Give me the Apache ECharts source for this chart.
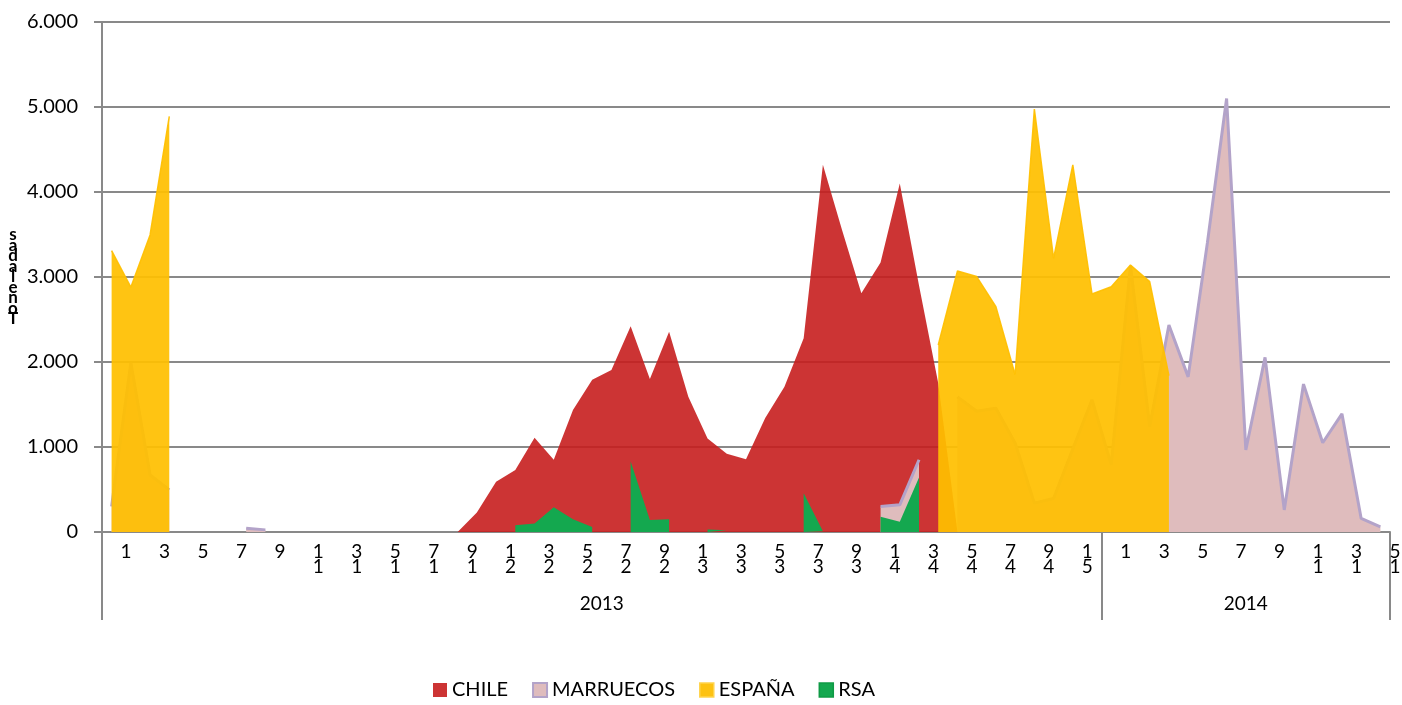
<!DOCTYPE html>
<html>
<head>
<meta charset="utf-8">
<title>Toneladas por semana</title>
<script src="https://cdn.jsdelivr.net/npm/echarts@6/dist/echarts.min.js"></script>
<style>
  html, body { margin: 0; padding: 0; background: #fff; }
  #chart { width: 1402px; height: 705px; }
</style>
</head>
<body>
<div id="chart"></div>
<script>
const _ = null;

// semanas: 2013 (1-52) + 2014 (1-15)
const weeks = [
  '1', '2', '3', '4', '5', '6', '7', '8', '9', '10', '11', '12', '13',
  '14', '15', '16', '17', '18', '19', '20', '21', '22', '23', '24', '25', '26',
  '27', '28', '29', '30', '31', '32', '33', '34', '35', '36', '37', '38', '39',
  '40', '41', '42', '43', '44', '45', '46', '47', '48', '49', '50', '51', '52',
  '1', '2', '3', '4', '5', '6', '7', '8', '9', '10', '11', '12', '13', '14', '15'
];
const years = ['2013', '2014'];
const weeksPerYear = [52, 15];

const chile = [
  _, _, _, _, _, _, _, _, _, _, _, _, _, _, _, _, _, _,
  0, 230, 590, 730, 1110, 850, 1435, 1790, 1905, 2420, 1800, 2355, 1590,
  1100, 920, 855, 1340, 1710, 2280, 4320, 3550, 2810, 3170, 4100, 2900, 1750, 0,
  _, _, _, _, _, _, _, _,
  _, _, _, _, _, _, _, _, _, _, _, _, _, _
];
const marruecos = [
  300, 1990, 670, 495, _, _, _, 45, 25,
  _, _, _, _, _, _, _, _, _, _, _, _, _, _, _, _, _, _, _, _, _, _, _, _, _, _, _, _, _, _, _,
  300, 320, 850, _,
  1590, 1420, 1455, 1045, 340, 395, 975, 1555,
  790, 3130, 1240, 2435, 1825, 3400, 5100, 965, 2055, 260, 1740, 1050, 1390, 160, 60
];
const espana = [
  3310, 2880, 3495, 4890,
  _, _, _, _, _, _, _, _, _, _, _, _, _, _, _, _, _, _, _, _,
  _, _, _, _, _, _, _, _, _, _, _, _, _, _, _, _, _, _, _,
  2200, 3070, 3005, 2650, 1850, 4975, 3220, 4320, 2800,
  2885, 3140, 2945, 1840,
  _, _, _, _, _, _, _, _, _, _, _
];
const rsa = [
  _, _, _, _, _, _, _, _, _, _, _, _, _, _, _, _, _, _, _, _, _,
  80, 100, 290, 150, 60, _, 830, 140, 150, _, 30, 20, _, _, _, 455, 10, _, _,
  180, 120, 640,
  _, _, _, _, _, _, _, _, _,
  _, _, _, _, _, _, _, _, _, _, _, _, _, _, _
];

const yName = 'Toneladas';
const FONT = 'Lato';
const GRAY = '#898989';

const gridLeft = 102, gridRight = 12;
const band = (1402 - gridLeft - gridRight) / weeks.length;

// eje de años: mismas bandas que las semanas, etiqueta en el centro de cada año
const yearCats = weeks.map(() => '');
const yearShift = {};
const yearStarts = [];
let start = 0;
years.forEach((y, i) => {
  yearStarts.push(start);
  const mid = start + (weeksPerYear[i] - 1) / 2;
  const idx = Math.floor(mid);
  yearCats[idx] = y;
  if (mid !== idx) yearShift[y] = true;
  start += weeksPerYear[i];
});

const fmtMiles = (v) => String(v).replace(/\B(?=(\d{3})+(?!\d))/g, '.');
// texto apilado de abajo hacia arriba
const stack = (s) => s.split('').reverse().join('\n');

// cada serie en su propia capa z para que las áreas tapen las líneas de las anteriores
const areaSeries = (name, data, fill, opacity, z, line) => ({
  name,
  type: 'line',
  data,
  z,
  symbol: 'none',
  silent: true,
  color: fill,
  lineStyle: line || { width: 0 },
  areaStyle: { color: fill, opacity }
});

const chart = echarts.init(document.getElementById('chart'));
chart.setOption({
  animation: false,
  grid: { left: gridLeft, right: gridRight, top: 22, bottom: 173, outerBoundsMode: 'none' },
  legend: {
    left: 433,
    top: 680,
    padding: 0,
    icon: 'rect',
    itemWidth: 14,
    itemHeight: 14,
    itemGap: 24,
    textStyle: { fontFamily: FONT, fontSize: 20, color: '#000' },
    data: [
      { name: 'CHILE', itemStyle: { color: '#CC3434', borderWidth: 0 } },
      { name: 'MARRUECOS', itemStyle: { color: '#DFBCBD', borderColor: '#B3A3C9', borderWidth: 2 } },
      { name: 'ESPAÑA', itemStyle: { color: '#FDC212', borderColor: '#FFD34D', borderWidth: 1.5 } },
      { name: 'RSA', itemStyle: { color: '#14A84F', borderColor: '#0F9A45', borderWidth: 1.5 } }
    ]
  },
  xAxis: [
    {
      type: 'category',
      data: weeks,
      boundaryGap: true,
      axisLine: { lineStyle: { color: GRAY, width: 2 } },
      axisTick: { show: false },
      axisLabel: {
        interval: 1,
        showMinLabel: true,
        showMaxLabel: true,
        hideOverlap: false,
        margin: 12,
        align: 'left',
        padding: [0, 0, 0, 9],
        fontFamily: FONT,
        fontSize: 19,
        lineHeight: 15,
        color: '#000',
        formatter: (v) => stack(v)
      }
    },
    {
      type: 'category',
      data: yearCats,
      boundaryGap: true,
      position: 'bottom',
      axisLine: { show: false },
      axisTick: {
        show: true,
        length: 88,
        interval: (i) => yearStarts.indexOf(i) >= 0,
        lineStyle: { color: GRAY, width: 2 }
      },
      axisLabel: {
        interval: (i) => yearCats[i] !== '',
        margin: 62,
        fontFamily: FONT,
        fontSize: 19,
        color: '#000',
        formatter: (v) => (yearShift[v] ? '{s|' + v + '}' : v),
        rich: {
          s: { padding: [0, 0, 0, band], fontFamily: FONT, fontSize: 19, color: '#000' }
        }
      }
    }
  ],
  yAxis: {
    type: 'value',
    min: 0,
    max: 6000,
    interval: 1000,
    name: stack(yName),
    nameLocation: 'middle',
    nameRotate: 0,
    nameGap: 89,
    nameTextStyle: {
      fontFamily: FONT,
      fontSize: 17,
      fontWeight: 'bold',
      lineHeight: 10.5,
      align: 'center',
      color: '#000'
    },
    axisLine: { show: true, lineStyle: { color: GRAY, width: 2 } },
    axisTick: { show: true, length: 8, lineStyle: { color: GRAY, width: 2 } },
    splitLine: { lineStyle: { color: GRAY, width: 2 } },
    axisLabel: {
      margin: 24,
      fontFamily: FONT,
      fontSize: 20,
      color: '#000',
      formatter: fmtMiles
    }
  },
  series: [
    areaSeries('CHILE', chile, '#C61E1E', 0.9, 2),
    areaSeries('MARRUECOS', marruecos, '#DFBCBD', 1, 3, { color: '#B3A3C9', width: 3 }),
    areaSeries('ESPAÑA', espana, '#FFC000', 0.93, 4, { color: '#FFC000', width: 1.5, opacity: 0.93 }),
    areaSeries('RSA', rsa, '#14A84F', 1, 5)
  ]
});
</script>
</body>
</html>
